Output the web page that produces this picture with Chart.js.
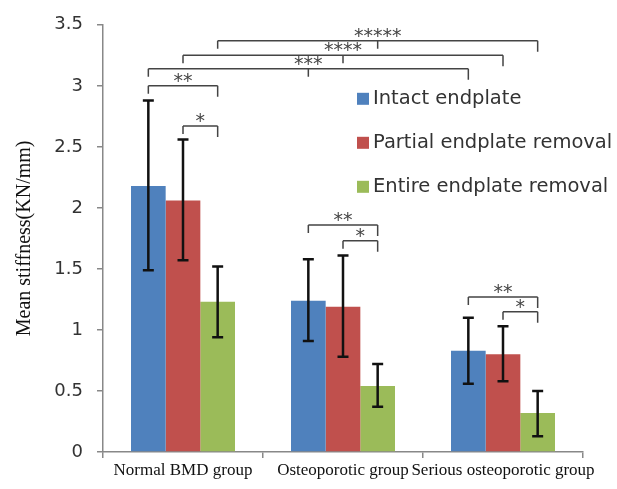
<!DOCTYPE html>
<html>
<head>
<meta charset="utf-8">
<script src="https://cdn.jsdelivr.net/npm/chart.js@4"></script>
<style>
  html, body { margin: 0; padding: 0; background: #fff; }
  #wrap { width: 617px; height: 489px; }
</style>
</head>
<body>
<div id="wrap"><canvas id="chart" width="617" height="489"></canvas></div>
<script>
const groups = ["Normal BMD group", "Osteoporotic group", "Serious osteoporotic group"];
const seriesNames = ["Intact endplate", "Partial endplate removal", "Entire endplate removal"];
const seriesColors = ["#4F81BD", "#C0504D", "#9BBB59"];

// means per series (one value per group)
const intact = [2.18, 1.24, 0.83];
const partial = [2.06, 1.19, 0.80];
const entire = [1.23, 0.54, 0.32];

// error bar ends per series
const intactLow = [1.49, 0.91, 0.56];
const intactHigh = [2.88, 1.58, 1.10];
const partialLow = [1.57, 0.78, 0.58];
const partialHigh = [2.56, 1.61, 1.03];
const entireLow = [0.94, 0.37, 0.13];
const entireHigh = [1.52, 0.72, 0.50];

const yTicks = { min: 0, max: 3.5, step: 0.5 };

// significance brackets: ends are [groupIndex, seriesIndex], y is the bracket level
const brackets = [
  { label: "**", y: 3.0, ends: [[0, 0], [0, 2]] },
  { label: "*", y: 2.67, ends: [[0, 1], [0, 2]] },
  { label: "***", y: 3.14, ends: [[0, 0], [1, 0], [2, 0]] },
  { label: "****", y: 3.25, ends: [[0, 1], [1, 1], [2, 1]] },
  { label: "*****", y: 3.37, ends: [[0, 2], [1, 2], [2, 2]] },
  { label: "**", y: 1.86, ends: [[1, 0], [1, 2]] },
  { label: "*", y: 1.73, ends: [[1, 1], [1, 2]] },
  { label: "**", y: 1.27, ends: [[2, 0], [2, 2]] },
  { label: "*", y: 1.15, ends: [[2, 1], [2, 2]] },
];

const means = [intact, partial, entire];
const lows = [intactLow, partialLow, entireLow];
const highs = [intactHigh, partialHigh, entireHigh];

const errorBars = {
  id: "errorBars",
  afterDatasetsDraw(chart) {
    const { ctx } = chart;
    const yScale = chart.scales.y;
    ctx.save();
    ctx.strokeStyle = "#111";
    ctx.lineWidth = 2.5;
    means.forEach((_, i) => {
      chart.getDatasetMeta(i).data.forEach((bar, j) => {
        const x = bar.x;
        const y1 = yScale.getPixelForValue(lows[i][j]);
        const y2 = yScale.getPixelForValue(highs[i][j]);
        ctx.beginPath();
        ctx.moveTo(x, y1); ctx.lineTo(x, y2);
        ctx.moveTo(x - 5.5, y1); ctx.lineTo(x + 5.5, y1);
        ctx.moveTo(x - 5.5, y2); ctx.lineTo(x + 5.5, y2);
        ctx.stroke();
      });
    });
    ctx.restore();
  }
};

const sigBrackets = {
  id: "sigBrackets",
  afterDatasetsDraw(chart) {
    const { ctx } = chart;
    const yScale = chart.scales.y;
    ctx.save();
    ctx.strokeStyle = "#444";
    ctx.fillStyle = "#444";
    ctx.lineWidth = 1.5;
    ctx.font = "19px 'DejaVu Sans'";
    ctx.textAlign = "center";
    ctx.textBaseline = "alphabetic";
    brackets.forEach(b => {
      const xs = b.ends.map(([g, s]) => chart.getDatasetMeta(s).data[g].x);
      const y = yScale.getPixelForValue(b.y);
      const left = Math.min(...xs), right = Math.max(...xs);
      ctx.beginPath();
      ctx.moveTo(left, y); ctx.lineTo(right, y);
      xs.forEach(x => {
        ctx.moveTo(x, y);
        ctx.lineTo(x, y + (x === right ? 11 : 8));
      });
      ctx.stroke();
      ctx.fillText(b.label, (left + right) / 2, y + 1);
    });
    ctx.restore();
  }
};

const innerLegend = {
  id: "innerLegend",
  afterDraw(chart) {
    const { ctx, chartArea } = chart;
    ctx.save();
    ctx.font = "19.5px 'DejaVu Sans'";
    ctx.textBaseline = "middle";
    ctx.textAlign = "left";
    seriesNames.forEach((name, i) => {
      const x = chartArea.left + 254;
      const y = chartArea.top + 74 + i * 44;
      ctx.fillStyle = seriesColors[i];
      ctx.fillRect(x, y - 6, 12, 12);
      ctx.fillStyle = "#333";
      ctx.fillText(name, x + 16, y);
    });
    ctx.restore();
  }
};

new Chart(document.getElementById("chart").getContext("2d"), {
  type: "bar",
  data: {
    labels: groups,
    datasets: seriesNames.map((name, i) => ({
      label: name,
      data: means[i],
      backgroundColor: seriesColors[i],
      categoryPercentage: 0.65,
      barPercentage: 1.0,
    })),
  },
  options: {
    responsive: false,
    animation: false,
    layout: { padding: { top: 17, right: 34, left: 0, bottom: 0 } },
    plugins: { legend: { display: false }, tooltip: { enabled: false } },
    scales: {
      x: {
        afterFit: s => { s.height = 37; },
        grid: { display: true, drawOnChartArea: false, offset: true, tickLength: 6, color: "#888", lineWidth: 1.5 },
        border: { color: "#888", width: 1.5 },
        ticks: { color: "#111", padding: 2, maxRotation: 0, minRotation: 0, autoSkip: false, font: { family: "'Liberation Serif'", size: 17 } },
      },
      y: {
        min: yTicks.min,
        max: yTicks.max,
        afterFit: s => { s.width = 103; },
        grid: { display: true, drawOnChartArea: false, tickLength: 6, color: "#888", lineWidth: 1.5 },
        border: { color: "#888", width: 1.5 },
        ticks: { stepSize: yTicks.step, color: "#333", padding: 14, callback: v => String(v), font: { family: "'DejaVu Sans'", size: 18 } },
        title: {
          display: true,
          text: "Mean stiffness(KN/mm)",
          color: "#111",
          padding: { top: 13, bottom: 0 },
          font: { family: "'Liberation Serif'", size: 20, weight: "normal" },
        },
      },
    },
  },
  plugins: [errorBars, sigBrackets, innerLegend],
});
</script>
</body>
</html>
